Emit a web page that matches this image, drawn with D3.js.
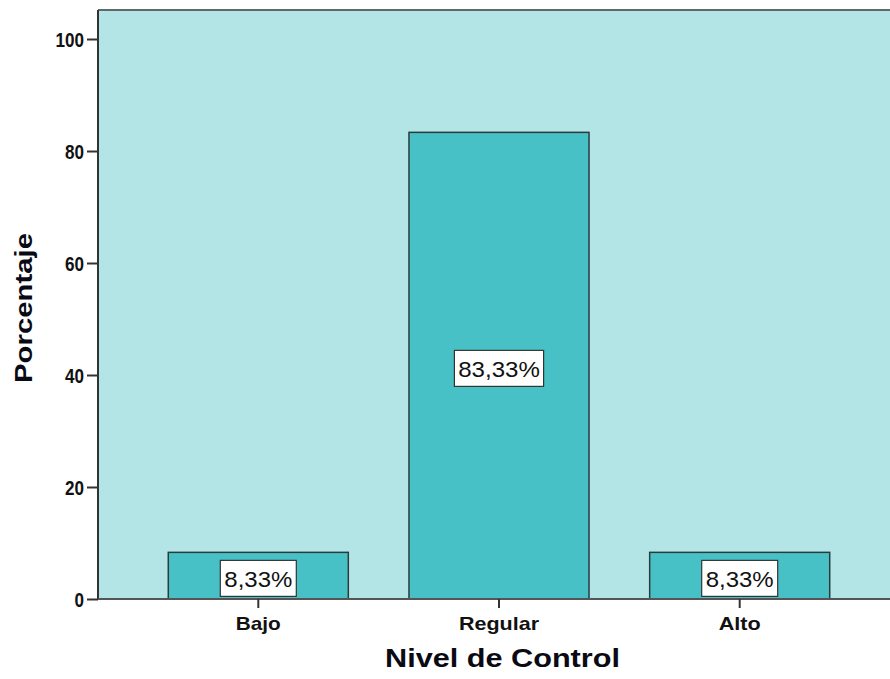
<!DOCTYPE html>
<html>
<head>
<meta charset="utf-8">
<script src="https://cdn.jsdelivr.net/npm/d3@7"></script>
<style>
  html, body { margin: 0; padding: 0; background: #fff; }
  svg { display: block; }
  text { font-family: "Liberation Sans", Arial, sans-serif; }
</style>
</head>
<body>
<svg id="chart" width="890" height="679"></svg>
<script>
// Porcentaje por nivel de control
const categories = ["Bajo", "Regular", "Alto"];
const percentages = [8.33, 83.33, 8.33];
const valueLabels = ["8,33%", "83,33%", "8,33%"];
const yTicks = [0, 20, 40, 60, 80, 100];

const svg = d3.select("#chart");
const plot = { left: 98, right: 900, top: 10, bottom: 599 };

const x = d3.scaleBand()
  .domain(categories)
  .range([plot.left, plot.right])
  .paddingInner(0.252)
  .paddingOuter(0.292);

const y = d3.scaleLinear()
  .domain([0, 105.18])
  .range([plot.bottom, plot.top]);

// plot background
svg.append("rect")
  .attr("x", plot.left).attr("y", plot.top)
  .attr("width", plot.right - plot.left)
  .attr("height", plot.bottom - plot.top)
  .attr("fill", "#b4e5e6");

// top frame line
svg.append("line")
  .attr("x1", plot.left).attr("x2", plot.right)
  .attr("y1", plot.top).attr("y2", plot.top)
  .attr("stroke", "#5f6b6b").attr("stroke-width", 2);

// bars
svg.append("g").selectAll("rect")
  .data(categories)
  .join("rect")
  .attr("x", d => x(d))
  .attr("y", (d, i) => y(percentages[i]))
  .attr("width", x.bandwidth())
  .attr("height", (d, i) => y(0) - y(percentages[i]))
  .attr("fill", "#48c1c6")
  .attr("stroke", "#2b3b3c")
  .attr("stroke-width", 1.5);

// value labels in white boxes
const lab = svg.append("g").selectAll("g")
  .data(categories)
  .join("g")
  .attr("transform", (d, i) =>
    `translate(${x(d) + x.bandwidth() / 2},${y(percentages[i] / 2) + 2.7})`);

lab.each(function (d, i) {
  const g = d3.select(this);
  const w = valueLabels[i].length * 13.2 + 10;
  g.append("rect")
    .attr("x", -w / 2).attr("y", -18)
    .attr("width", w).attr("height", 36)
    .attr("fill", "#ffffff")
    .attr("stroke", "#333")
    .attr("stroke-width", 1.2);
  g.append("text")
    .attr("text-anchor", "middle")
    .attr("y", 8.5)
    .attr("font-size", 22)
    .attr("fill", "#111")
    .attr("textLength", valueLabels[i].length * 13.6)
    .attr("lengthAdjust", "spacingAndGlyphs")
    .text(valueLabels[i]);
});

// y axis
const yAxis = svg.append("g")
  .attr("transform", `translate(${plot.left},0)`)
  .call(d3.axisLeft(y).tickValues(yTicks).tickSize(11).tickPadding(3).tickFormat(d3.format("d")));
yAxis.select(".domain")
  .attr("d", `M0,${plot.top}V${plot.bottom}`)
  .attr("stroke", "#333").attr("stroke-width", 2);
yAxis.selectAll(".tick line").attr("stroke", "#333").attr("stroke-width", 2);
yAxis.selectAll(".tick text")
  .attr("font-family", "Liberation Sans, Arial, sans-serif")
  .attr("font-size", 21)
  .attr("font-weight", "bold")
  .attr("fill", "#111")
  .attr("dy", "0.36em")
  .attr("textLength", d => String(d).length * 9.5)
  .attr("lengthAdjust", "spacingAndGlyphs");

// x axis
const xAxis = svg.append("g")
  .attr("transform", `translate(0,${plot.bottom})`)
  .call(d3.axisBottom(x).tickSize(9).tickPadding(9));
xAxis.select(".domain")
  .attr("d", `M${plot.left},0H${plot.right}`)
  .attr("stroke", "#555").attr("stroke-width", 2);
xAxis.selectAll(".tick line").attr("stroke", "#333").attr("stroke-width", 2);
xAxis.selectAll(".tick text")
  .attr("font-family", "Liberation Sans, Arial, sans-serif")
  .attr("font-size", 19)
  .attr("font-weight", "bold")
  .attr("fill", "#111")
  .attr("textLength", d => ({ Bajo: 45, Regular: 80, Alto: 42 })[d])
  .attr("lengthAdjust", "spacingAndGlyphs");

// axis titles
svg.append("text")
  .attr("x", 502.5).attr("y", 667)
  .attr("text-anchor", "middle")
  .attr("font-size", 26.5)
  .attr("font-weight", "bold")
  .attr("fill", "#0a0a14")
  .attr("textLength", 235)
  .attr("lengthAdjust", "spacingAndGlyphs")
  .text("Nivel de Control");

svg.append("text")
  .attr("transform", "translate(32,308) rotate(-90)")
  .attr("text-anchor", "middle")
  .attr("font-size", 24)
  .attr("font-weight", "bold")
  .attr("fill", "#0a0a14")
  .attr("textLength", 150)
  .attr("lengthAdjust", "spacingAndGlyphs")
  .text("Porcentaje");
</script>
</body>
</html>
